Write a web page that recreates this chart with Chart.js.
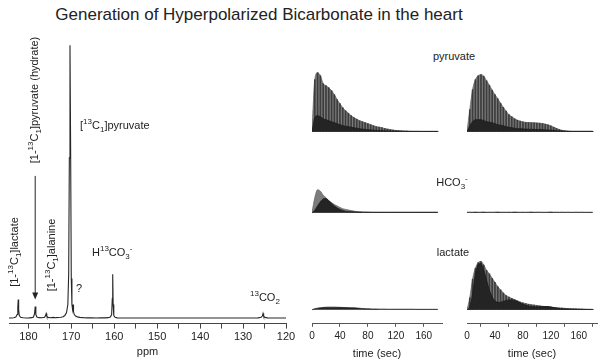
<!DOCTYPE html>
<html>
<head>
<meta charset="utf-8">
<script src="https://cdn.jsdelivr.net/npm/chart.js@4.4.0/dist/chart.umd.min.js"></script>
<style>
  body { margin: 0; background: #fff; }
  #wrap { position: relative; width: 604px; height: 364px; overflow: hidden;
          font-family: "Liberation Sans", Arial, sans-serif; color: #222; }
  canvas { position: absolute; }
  .lbl { position: absolute; font-size: 11px; white-space: nowrap; line-height: 1; }
  .lbl sup, .lbl sub { font-size: 8px; line-height: 0; }
  .ctr { transform: translate(-50%, -50%); }
  .mid { transform: translateY(-50%); }
  .rot { transform: translate(-50%, -50%) rotate(-90deg); }
  #title { position: absolute; left: 0; width: 518px; top: 5px; text-align: center; font-size: 17px; }
</style>
</head>
<body>
<div id="wrap">
  <div id="title">Generation of Hyperpolarized Bicarbonate in the heart</div>

  <canvas id="spec" width="300" height="324" style="left:0;top:40px"></canvas>

  <canvas id="pyrL" width="150" height="72" style="left:302px;top:62px"></canvas>
  <canvas id="pyrR" width="150" height="72" style="left:457px;top:62px"></canvas>
  <canvas id="hcoL" width="150" height="36" style="left:302px;top:180px"></canvas>
  <canvas id="hcoR" width="150" height="36" style="left:457px;top:180px"></canvas>
  <canvas id="lacL" width="150" height="114" style="left:302px;top:250px"></canvas>
  <canvas id="lacR" width="150" height="114" style="left:457px;top:250px"></canvas>

  <div class="lbl rot" style="left:14px;top:252px">[1-<sup>13</sup>C<sub>1</sub>]lactate</div>
  <div class="lbl rot" style="left:34px;top:100px">[1-<sup>13</sup>C<sub>1</sub>]pyruvate (hydrate)</div>
  <div class="lbl rot" style="left:51px;top:255px">[1-<sup>13</sup>C<sub>1</sub>]alanine</div>
  <div class="lbl mid" style="left:80px;top:125px">[<sup>13</sup>C<sub>1</sub>]pyruvate</div>
  <div class="lbl ctr" style="left:79px;top:288px">?</div>
  <div class="lbl mid" style="left:92px;top:252px">H<sup>13</sup>CO<sub>3</sub><sup>-</sup></div>
  <div class="lbl mid" style="left:250px;top:297px"><sup>13</sup>CO<sub>2</sub></div>

  <div class="lbl ctr" style="left:454px;top:56px">pyruvate</div>
  <div class="lbl ctr" style="left:452px;top:182px">HCO<sub>3</sub><sup>-</sup></div>
  <div class="lbl ctr" style="left:453px;top:252px">lactate</div>
</div>

<script>
Chart.defaults.font.family = '"Liberation Sans", Arial, sans-serif';
Chart.defaults.color = '#222';

// 13C spectrum, [ppm, intensity]
const spectrum = [
  [184.5, 0.5], [184, 0.6], [183.4, 0.8], [182.9, 1.5], [182.6, 4], [182.45, 11],
  [182.35, 19], [182.25, 9], [182.1, 3], [181.8, 1.3], [181.2, 0.8], [180.5, 0.6],
  [179.8, 0.7], [179.2, 0.9], [178.8, 1.6], [178.55, 5], [178.4, 12], [178.25, 4],
  [178, 1.5], [177.5, 0.9], [176.8, 0.8], [176.2, 1.3], [176, 3], [175.85, 5],
  [175.7, 2.5], [175.4, 1.2], [174.8, 0.9], [174.2, 1.2], [173.6, 0.9], [173, 1],
  [172.4, 1.3], [171.9, 1.8], [171.5, 3], [171.1, 6], [170.8, 14], [170.6, 45],
  [170.45, 160], [170.3, 272], [170.15, 170], [170, 40], [169.85, 14], [169.7, 9],
  [169.58, 14], [169.48, 7], [169.3, 4], [169, 2.5], [168.6, 1.7], [168, 1.2],
  [167.2, 0.9], [166.2, 0.7], [165.2, 0.7], [164.2, 0.6], [163.2, 0.7], [162.2, 0.7],
  [161.4, 0.9], [160.9, 1.5], [160.6, 4], [160.45, 20], [160.35, 44], [160.25, 14],
  [160.1, 3], [159.8, 1.2], [159.3, 0.7], [158.5, 0.6], [157.5, 0.5], [156, 0.5],
  [154, 0.6], [152, 0.5], [150, 0.6], [148, 0.5], [146, 0.5], [144, 0.6],
  [142, 0.5], [140, 0.5], [138, 0.6], [136, 0.5], [134, 0.5], [132, 0.6],
  [130, 0.5], [128, 0.5], [126.5, 0.7], [125.8, 1.3], [125.5, 2.5], [125.35, 5],
  [125.2, 2.5], [124.9, 1.2], [124.3, 0.7], [123.5, 0.5], [122, 0.5], [120, 0.5]
];
const ppmTicks = [180, 175, 170, 165, 160, 155, 150, 145, 140, 135, 130, 125, 120];
const arrowPpm = 178.4, arrowFrom = 142, arrowTo = 19;

// time courses (sec) and signal per panel
const times = [0, 4, 8, 12, 16, 20, 24, 28, 32, 36, 40, 44, 48, 52, 56, 60, 64, 68, 72, 76,
  80, 84, 88, 92, 96, 100, 104, 108, 112, 116, 120, 124, 128, 132, 136, 140, 144, 148, 152, 156,
  160, 164, 168, 172, 176, 180];
const timeTicks = [0, 40, 80, 120, 160];

const pyrLeftGray = [0, 52, 59, 56, 48, 46, 44, 41, 37, 32, 28, 24, 21, 18.5, 16, 14, 12.5, 11, 10, 9,
  8, 7, 6, 5, 4.5, 4, 3.2, 2.6, 2.1, 1.6, 1.2, 1, 0.8, 0.6, 0.5, 0.4, 0.3, 0.3, 0.3, 0.2,
  0.2, 0.2, 0.2, 0.2, 0.2, 0.2];
const pyrLeftDark = [0, 14, 16, 15, 13, 12, 11, 10, 9, 8, 7, 6, 5.5, 5, 4.5, 4, 3.5, 3, 2.6, 2.3,
  2, 1.8, 1.5, 1.3, 1.1, 1, 0.9, 0.8, 0.7, 0.6, 0.6, 0.5, 0.5, 0.5, 0.4, 0.4, 0.4, 0.4, 0.4, 0.4,
  0.4, 0.4, 0.4, 0.4, 0.4, 0.4];
const pyrRightGray = [0, 22, 42, 52, 56, 57, 55.5, 51, 46.5, 41.5, 37, 33, 28.5, 24.3, 20.5, 17, 15, 13, 11.5, 10.5,
  9.8, 9.3, 9.1, 9, 8.9, 8.7, 8.5, 8.1, 7.5, 6.8, 5.8, 4.5, 3.3, 2.2, 1.4, 0.9, 0.6, 0.4, 0.3, 0.3,
  0.3, 0.3, 0.3, 0.3, 0.3, 0.3];
const pyrRightDark = [0, 6, 10, 12, 12, 12, 11, 10, 9.5, 9, 8, 7, 6.5, 6, 5, 4.5, 4, 3.5, 3, 3,
  2.8, 2.6, 2.5, 2.4, 2.3, 2.2, 2.1, 2, 1.8, 1.6, 1.4, 1.2, 1, 0.8, 0.6, 0.5, 0.4, 0.4, 0.4, 0.4,
  0.4, 0.4, 0.4, 0.4, 0.4, 0.4];
const hcoLeftGray = [0, 15, 23, 21.5, 17.5, 15, 12, 10, 8.2, 6.7, 5.2, 4, 3.3, 2.7, 2.1, 1.6, 1.2, 0.9, 0.7, 0.6,
  0.5, 0.5, 0.4, 0.4, 0.4, 0.4, 0.4, 0.4, 0.4, 0.4, 0.4, 0.4, 0.4, 0.4, 0.4, 0.4, 0.4, 0.4, 0.4, 0.4,
  0.4, 0.4, 0.4, 0.4, 0.4, 0.4];
const hcoLeftDark = [0, 2.5, 7, 11, 13.8, 14.2, 12, 9.5, 6.8, 4.8, 3.3, 2.2, 1.5, 1.1, 0.9, 0.8, 0.7, 0.6, 0.5, 0.5,
  0.5, 0.4, 0.4, 0.4, 0.4, 0.4, 0.4, 0.4, 0.4, 0.4, 0.4, 0.4, 0.4, 0.4, 0.4, 0.4, 0.4, 0.4, 0.4, 0.4,
  0.4, 0.4, 0.4, 0.4, 0.4, 0.4];
const hcoRightDark = [0.4, 0.5, 0.4, 0.6, 0.4, 0.5, 0.6, 0.4, 0.5, 0.4, 0.5, 0.6, 0.4, 0.5, 0.4, 0.5, 0.4, 0.6, 0.5, 0.4,
  0.5, 0.4, 0.5, 0.6, 0.4, 0.5, 0.5, 0.4, 0.4, 0.5, 0.6, 0.4, 0.5, 0.4, 0.5, 0.4, 0.5, 0.4, 0.4, 0.5,
  0.4, 0.5, 0.4, 0.4, 0.4, 0.4];
const lacLeftDark = [0, 1, 1.6, 2, 2.3, 2.5, 2.6, 2.6, 2.6, 2.5, 2.4, 2.3, 2.2, 2.1, 2, 1.9, 1.7, 1.5, 1.2, 1,
  0.9, 0.8, 0.7, 0.7, 0.6, 0.6, 0.6, 0.5, 0.5, 0.5, 0.5, 0.5, 0.5, 0.5, 0.5, 0.5, 0.5, 0.4, 0.4, 0.4,
  0.4, 0.4, 0.4, 0.4, 0.4, 0.4];
const lacRightGray = [0, 12, 31, 42, 48, 49, 45.5, 40, 36.5, 32, 27.8, 23.5, 20.2, 17, 14.5, 12.8, 11.5, 10.3, 9, 7.8,
  6.9, 6.2, 5.6, 5.1, 4.7, 4.3, 3.9, 3.5, 3.2, 3, 2.7, 2.3, 2, 1.8, 1.6, 1.4, 1.2, 1, 0.9, 0.8,
  0.7, 0.6, 0.5, 0.4, 0.4, 0.3];
const lacRightDark = [0, 3, 16, 36, 46, 47, 40, 30, 20, 13, 9, 7.5, 7.5, 8.5, 9.5, 10, 10, 9.5, 8.5, 7,
  5.5, 4.5, 3.8, 3.3, 3, 2.9, 3, 3.2, 3.3, 3.2, 2.8, 2.2, 1.7, 1.3, 1, 0.8, 0.7, 0.6, 0.5, 0.5,
  0.4, 0.4, 0.4, 0.3, 0.3, 0.3];

const arrowPlugin = {
  id: 'arrow',
  afterDatasetsDraw(chart) {
    const ctx = chart.ctx;
    const x = chart.scales.x.getPixelForValue(arrowPpm);
    const y1 = chart.scales.y.getPixelForValue(arrowFrom);
    const y2 = chart.scales.y.getPixelForValue(arrowTo);
    ctx.save();
    ctx.strokeStyle = '#222';
    ctx.fillStyle = '#222';
    ctx.lineWidth = 1;
    ctx.beginPath();
    ctx.moveTo(x, y1);
    ctx.lineTo(x, y2 - 6);
    ctx.stroke();
    ctx.beginPath();
    ctx.moveTo(x - 3, y2 - 7);
    ctx.lineTo(x + 3, y2 - 7);
    ctx.lineTo(x, y2);
    ctx.closePath();
    ctx.fill();
    ctx.restore();
  }
};

new Chart(document.getElementById('spec'), {
  type: 'line',
  data: {
    datasets: [{
      data: spectrum.map(p => ({ x: p[0], y: p[1] })),
      borderColor: '#262626', borderWidth: 1.1, pointRadius: 0, tension: 0, fill: false
    }]
  },
  options: {
    responsive: false, animation: false,
    layout: { padding: { left: 9, right: 14, top: 5, bottom: 5 } },
    plugins: { legend: { display: false }, tooltip: { enabled: false } },
    scales: {
      x: {
        type: 'linear', reverse: true, min: 120, max: 184.5,
        afterBuildTicks: ax => { ax.ticks = ppmTicks.map(v => ({ value: v })); },
        ticks: { callback: v => (v % 10 === 0 ? String(v) : ''), font: { size: 11 }, padding: 2,
                 maxRotation: 0, autoSkip: false },
        grid: { display: true, drawOnChartArea: false, drawTicks: true, tickLength: 5, color: '#444' },
        border: { display: true, color: '#444', width: 1 },
        title: { display: true, text: 'ppm', font: { size: 11 }, padding: { top: 0, bottom: 0 } }
      },
      y: { display: false, min: -5, max: 272.3 }
    }
  },
  plugins: [arrowPlugin]
});

function pts(vals) {
  return vals.map((v, i) => ({ x: times[i], y: v }));
}

function panel(id, layers, yMin, yMax, showAxis) {
  const datasets = [];
  if (layers.dark) datasets.push({
    type: 'line', data: pts(layers.dark), fill: 'origin', backgroundColor: '#242424',
    borderColor: '#1c1c1c', borderWidth: 0.8, pointRadius: 0, cubicInterpolationMode: 'monotone', order: 0
  });
  if (layers.stripes) datasets.push({
    type: 'bar', data: pts(layers.stripes), backgroundColor: 'rgba(40,40,40,0.75)',
    barThickness: 1, order: 1
  });
  if (layers.gray) datasets.push({
    type: 'line', data: pts(layers.gray), fill: 'origin', backgroundColor: '#7c7c7c',
    borderColor: '#666', borderWidth: 0.8, pointRadius: 0, cubicInterpolationMode: 'monotone', order: 2
  });
  new Chart(document.getElementById(id), {
    type: 'line',
    data: { datasets },
    options: {
      responsive: false, animation: false,
      layout: { padding: { left: 10, right: 10, top: 0, bottom: showAxis ? 3 : 0 } },
      plugins: { legend: { display: false }, tooltip: { enabled: false } },
      scales: {
        x: {
          type: 'linear', min: 0, max: 186, offset: false, display: showAxis,
          afterBuildTicks: ax => { ax.ticks = timeTicks.map(v => ({ value: v })); },
          ticks: { font: { size: 10 }, padding: 3, maxRotation: 0, autoSkip: false },
          grid: { display: true, drawOnChartArea: false, drawTicks: true, tickLength: 3, color: '#555' },
          border: { display: true, color: '#555', width: 1 },
          title: { display: true, text: 'time (sec)', font: { size: 11 }, padding: { top: 3, bottom: 0 } }
        },
        y: { display: false, min: yMin, max: yMax }
      }
    }
  });
}

panel('pyrL', { gray: pyrLeftGray, stripes: pyrLeftGray, dark: pyrLeftDark }, -2.3, 69.7, false);
panel('pyrR', { gray: pyrRightGray, stripes: pyrRightGray, dark: pyrRightDark }, -2.3, 69.7, false);
panel('hcoL', { gray: hcoLeftGray, dark: hcoLeftDark }, -3.3, 32.7, false);
panel('hcoR', { dark: hcoRightDark }, -3.3, 32.7, false);
panel('lacL', { dark: lacLeftDark }, -14.3, 60.7, true);
panel('lacR', { gray: lacRightGray, stripes: lacRightGray, dark: lacRightDark }, -14.3, 60.7, true);
</script>
</body>
</html>
